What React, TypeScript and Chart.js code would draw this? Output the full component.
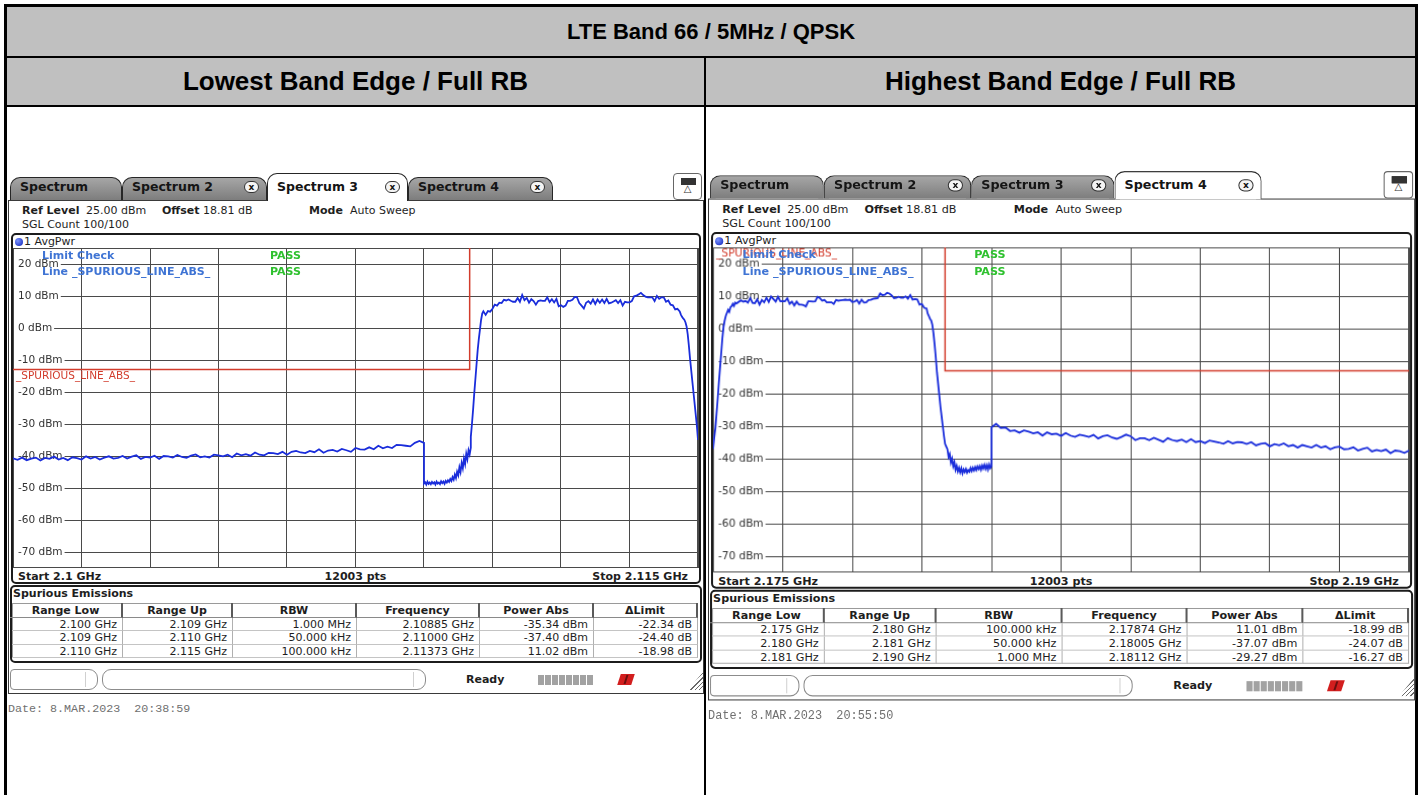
import React, { useEffect, useRef } from 'react';
import { Chart, registerables } from 'chart.js';

Chart.register(...registerables);

// ---------------- data ----------------
const TITLE = 'LTE Band 66 / 5MHz / QPSK';
const LEFT_HEADING = 'Lowest Band Edge / Full RB';
const RIGHT_HEADING = 'Highest Band Edge / Full RB';
const TAB_LABELS = ['Spectrum', 'Spectrum 2', 'Spectrum 3', 'Spectrum 4'];

const Y_MIN = -75;
const Y_MAX = 25;
const Y_TICKS = [-70, -60, -50, -40, -30, -20, -10, 0, 10, 20];

const LEFT_X_MIN = 2.1;
const LEFT_X_MAX = 2.115;
const LEFT_X_TICKS = [2.1, 2.1015, 2.103, 2.1045, 2.106, 2.1075, 2.109, 2.1105, 2.112, 2.1135, 2.115];
const RIGHT_X_MIN = 2.175;
const RIGHT_X_MAX = 2.19;
const RIGHT_X_TICKS = [2.175, 2.1765, 2.178, 2.1795, 2.181, 2.1825, 2.184, 2.1855, 2.187, 2.1885, 2.19];

const LIMIT_NAME = '_SPURIOUS_LINE_ABS_';
const LEFT_LIMIT_FREQ = [2.1, 2.11, 2.11, 2.115];
const LEFT_LIMIT_DBM = [-13, -13, 30, 30];
const RIGHT_LIMIT_FREQ = [2.175, 2.18, 2.18, 2.19];
const RIGHT_LIMIT_DBM = [30, 30, -13, -13];

// Trace sweep segments (start GHz, sweep step GHz, levels dBm)
const LEFT_FLOOR = [
  -40.7, -41.2, -40.5, -41.3, -40.8, -40.5, -41.4, -40.6, -40.9, -40.2,
  -41.1, -40.6, -41.3, -40.4, -40.7, -41.1, -40.1, -40.8, -40.3, -41.1,
  -40.5, -40.1, -40.8, -40.6, -40.0, -40.8, -40.2, -39.8, -40.9, -40.3,
  -40.5, -39.9, -40.9, -40.0, -40.1, -40.5, -39.7, -40.3, -40.6, -39.9,
  -39.5, -40.4, -40.1, -40.5, -39.6, -39.8, -40.1, -39.6, -40.4, -39.2,
  -39.8, -39.4, -39.9, -38.9, -39.6, -39.8, -39.0, -39.1, -39.4, -38.7,
  -39.6, -38.7, -38.4, -38.9, -39.1, -38.4, -38.8, -37.9, -39.0, -38.3,
  -38.1, -38.6, -37.8, -38.2, -38.7, -37.5, -37.9, -38.0, -37.3, -37.9,
  -36.8, -37.6, -37.1, -37.5, -36.5, -36.6, -36.8, -37.0, -35.9, -35.3, -35.9,
];
const LEFT_GAP = [
  -48.6,
  -48.2, -48.9, -48.0, -48.7, -48.3, -48.8, -48.1, -48.6, -48.2, -48.9,
  -48.0, -48.6, -48.3, -48.8, -47.9, -48.5, -48.0, -48.7, -47.8, -48.3,
  -47.6, -48.1, -47.2, -47.8, -46.6, -47.4, -45.8, -46.9, -44.9, -46.0,
  -43.5, -45.0, -42.2, -43.8, -40.8, -42.5, -39.3, -41.0, -38.2, -39.5, -37.4,
];
const LEFT_RISE = [-34.0, -30.0, -25.5, -20.5, -16.0, -11.5, -7.0, -3.5, -0.5, 2.5, 4.5, 5.2];
const LEFT_TOP = [
  4.1, 5.3, 5.1, 6.0, 7.3, 7.0, 7.9, 7.8, 8.8, 8.6,
  8.9, 8.5, 8.2, 8.2, 9.4, 8.2, 10.3, 8.7, 9.4, 7.9,
  9.0, 8.4, 7.3, 8.4, 8.6, 8.5, 8.5, 9.6, 8.1, 9.0,
  8.0, 9.1, 6.8, 7.1, 6.6, 7.0, 8.5, 8.5, 8.8, 9.7,
  9.6, 7.8, 7.0, 6.1, 7.9, 8.4, 7.6, 8.9, 7.5, 8.9,
  7.9, 8.9, 7.8, 9.1, 7.7, 7.9, 8.3, 8.7, 7.8, 8.7,
  7.0, 8.2, 8.0, 8.0, 8.4, 9.9, 10.1, 10.5, 11.0, 10.3,
  9.8, 9.6, 9.6, 9.6, 8.4, 10.0, 9.1, 9.6, 9.6, 8.2,
  8.6, 7.3, 7.1, 5.8, 6.0, 5.2,
];
const LEFT_FALL = [4.2, 3.5, 3.0, 2.6, 1.8, 0.5, -2.0, -5.5, -9.5, -13.0, -16.5, -20.0, -23.5, -27.0, -30.5, -35.0];

const RIGHT_RISE = [
  -37.0, -33.5, -30.5, -26.0, -21.5, -16.5, -12.0, -7.5, -3.0, 0.5,
  2.5, 4.0, 4.9, 5.8, 5.2, 6.6, 6.9, 7.6, 7.0, 8.0, 7.7,
];
const RIGHT_TOP = [
  8.7, 8.3, 8.5, 8.0, 9.4, 7.9, 7.8, 9.0, 7.4, 8.8,
  8.1, 9.5, 8.2, 9.9, 9.1, 8.3, 9.8, 8.4, 8.5, 8.4,
  9.3, 7.6, 8.3, 7.1, 8.3, 7.4, 7.4, 7.2, 6.8, 8.4,
  8.4, 8.3, 8.4, 9.8, 9.4, 8.6, 8.8, 8.1, 8.1, 8.1,
  7.6, 8.8, 8.6, 8.7, 8.8, 8.9, 8.8, 8.9, 8.2, 8.3,
  8.8, 7.7, 8.9, 8.0, 8.1, 8.8, 8.9, 9.2, 9.3, 9.4,
  10.8, 10.3, 10.4, 11.0, 10.8, 10.2, 9.4, 9.5, 9.8, 9.5,
  9.5, 9.9, 9.2, 10.3, 8.9, 9.1, 9.0, 7.4, 7.6, 6.4, 6.2,
];
const RIGHT_FALL = [4.6, 3.9, 3.0, 2.5, 1.2, -1.5, -5.0, -9.0, -13.5, -17.0, -20.5, -24.0, -27.0, -30.0, -33.0, -35.5];
const RIGHT_GAP = [
  -36.3, -37.1, -39.5, -38.6, -41.2, -40.0, -42.3, -41.1, -43.4, -42.2,
  -43.9, -42.8, -44.2, -43.0, -44.5, -43.3, -44.1, -43.2, -44.3, -43.5,
  -44.0, -42.9, -43.8, -42.8, -43.6, -42.6, -43.5, -42.4, -43.2, -42.3,
  -43.4, -42.1, -43.0, -41.9, -43.1, -42.0, -43.3, -41.8, -42.9, -42.3,
];
const RIGHT_FLOOR = [
  -30.4, -29.3, -30.6, -30.4, -31.5, -31.3, -32.0, -31.3, -31.7, -32.2,
  -31.9, -32.9, -31.9, -32.5, -32.3, -33.0, -32.1, -32.9, -33.3, -32.6,
  -32.9, -33.3, -32.7, -33.8, -33.1, -32.8, -33.5, -33.9, -33.3, -32.6,
  -33.1, -34.3, -33.7, -33.7, -34.3, -33.6, -34.2, -34.8, -33.7, -34.3,
  -34.6, -34.1, -34.9, -34.0, -34.9, -34.6, -35.2, -34.4, -34.7, -35.0,
  -35.4, -34.6, -35.3, -34.9, -35.0, -35.5, -34.9, -35.9, -35.4, -35.2,
  -36.2, -35.5, -35.9, -35.3, -36.2, -35.8, -36.6, -35.8, -36.2, -36.6,
  -35.8, -36.6, -36.2, -37.1, -36.5, -36.3, -37.1, -37.0, -36.5, -37.5,
  -37.0, -36.6, -37.8, -37.3, -37.7, -37.2, -38.3, -37.5, -37.7, -38.2, -37.5,
];

const LEFT_SEGMENTS = [
  { start: 2.1, step: 0.0001, values: LEFT_FLOOR },
  { start: 2.109, step: 0.000025, values: LEFT_GAP },
  { start: 2.110025, step: 0.000025, values: LEFT_RISE },
  { start: 2.11035, step: 0.00005, values: LEFT_TOP },
  { start: 2.114625, step: 0.000025, values: LEFT_FALL },
];
const RIGHT_SEGMENTS = [
  { start: 2.175, step: 0.000025, values: RIGHT_RISE },
  { start: 2.1756, step: 0.00005, values: RIGHT_TOP },
  { start: 2.179625, step: 0.000025, values: RIGHT_FALL },
  { start: 2.180025, step: 0.000025, values: RIGHT_GAP },
  { start: 2.181, step: 0.0001, values: RIGHT_FLOOR },
];

const TABLE_HEADERS = ['Range Low', 'Range Up', 'RBW', 'Frequency', 'Power Abs', '\u0394Limit'];
const LEFT_ROWS = [
  ['2.100 GHz', '2.109 GHz', '1.000 MHz', '2.10885 GHz', '-35.34 dBm', '-22.34 dB'],
  ['2.109 GHz', '2.110 GHz', '50.000 kHz', '2.11000 GHz', '-37.40 dBm', '-24.40 dB'],
  ['2.110 GHz', '2.115 GHz', '100.000 kHz', '2.11373 GHz', '11.02 dBm', '-18.98 dB'],
];
const RIGHT_ROWS = [
  ['2.175 GHz', '2.180 GHz', '100.000 kHz', '2.17874 GHz', '11.01 dBm', '-18.99 dB'],
  ['2.180 GHz', '2.181 GHz', '50.000 kHz', '2.18005 GHz', '-37.07 dBm', '-24.07 dB'],
  ['2.181 GHz', '2.190 GHz', '1.000 MHz', '2.18112 GHz', '-29.27 dBm', '-16.27 dB'],
];

const LEFT_START = 'Start 2.1 GHz';
const LEFT_STOP = 'Stop 2.115 GHz';
const RIGHT_START = 'Start 2.175 GHz';
const RIGHT_STOP = 'Stop 2.19 GHz';
const SWEEP_POINTS = '12003 pts';
const LEFT_DATE = 'Date: 8.MAR.2023  20:38:59';
const RIGHT_DATE = 'Date: 8.MAR.2023  20:55:50';

// ---------------- styles ----------------
const UI_FONT = '"DejaVu Sans", Verdana, sans-serif';
const DOC_FONT = '"Liberation Sans", Arial, sans-serif';
const TRACE_COLOR = '#1a2ddb';
const LIMIT_COLOR = '#d23c2c';
const GRID_COLOR = '#4a4a4a';
const COLS = [2, 115, 225, 349, 472, 586, 690];
const TAB_X = [2, 114, 259, 400, 545];

const framePlugin = {
  id: 'plotFrame',
  beforeDatasetsDraw(chart: any) {
    const { ctx, chartArea } = chart;
    ctx.save();
    ctx.strokeStyle = GRID_COLOR;
    ctx.lineWidth = 1;
    ctx.strokeRect(chartArea.left + 0.5, chartArea.top + 0.5, chartArea.width - 1, chartArea.height - 1);
    ctx.restore();
  },
};

const limitLabelPlugin = {
  id: 'limitLabel',
  afterDatasetsDraw(chart: any, _args: any, opts: any) {
    const { ctx, chartArea, scales } = chart;
    const y = Math.max(scales.y.getPixelForValue(opts.level), chartArea.top);
    ctx.save();
    ctx.font = '10.5px "DejaVu Sans"';
    ctx.fillStyle = LIMIT_COLOR;
    ctx.textBaseline = 'top';
    ctx.fillText(opts.text, chartArea.left + 3, y + 1);
    ctx.restore();
  },
};

function buildTrace(segs: { start: number; step: number; values: number[] }[]) {
  const pts: { x: number; y: number }[] = [];
  segs.forEach((s) => s.values.forEach((v, i) => pts.push({ x: s.start + i * s.step, y: v })));
  return pts;
}

function SpectrumPlot(props: any) {
  const { xMin, xMax, xTicks, segments, limitFreq, limitDbm } = props;
  const ref = useRef<HTMLCanvasElement>(null);
  useEffect(() => {
    const chart = new Chart(ref.current as HTMLCanvasElement, {
      type: 'line',
      data: {
        datasets: [
          {
            data: buildTrace(segments),
            borderColor: TRACE_COLOR,
            borderWidth: 1.8,
            pointRadius: 0,
            tension: 0,
            fill: false,
          },
          {
            data: limitFreq.map((f: number, i: number) => ({ x: f, y: limitDbm[i] })),
            borderColor: LIMIT_COLOR,
            borderWidth: 1.5,
            pointRadius: 0,
            tension: 0,
            fill: false,
          },
        ],
      },
      options: {
        responsive: false,
        animation: false,
        events: [],
        layout: { padding: 1 },
        plugins: {
          legend: { display: false },
          tooltip: { enabled: false },
          limitLabel: { level: limitDbm[0], text: LIMIT_NAME },
        } as any,
        scales: {
          x: {
            type: 'linear',
            min: xMin,
            max: xMax,
            afterBuildTicks: (s: any) => {
              s.ticks = xTicks.map((v: number) => ({ value: v }));
            },
            afterFit: (s: any) => {
              s.height = 0;
              s.paddingLeft = 0;
              s.paddingRight = 0;
              s.paddingTop = 0;
              s.paddingBottom = 0;
            },
            ticks: { display: false },
            grid: { color: GRID_COLOR, lineWidth: 1, drawTicks: false },
            border: { display: false },
          },
          y: {
            type: 'linear',
            min: Y_MIN,
            max: Y_MAX,
            afterBuildTicks: (s: any) => {
              s.ticks = Y_TICKS.map((v) => ({ value: v }));
            },
            afterFit: (s: any) => {
              s.width = 0;
              s.paddingLeft = 0;
              s.paddingRight = 0;
              s.paddingTop = 0;
              s.paddingBottom = 0;
            },
            ticks: {
              mirror: true,
              padding: 5,
              color: '#333333',
              font: { family: '"DejaVu Sans", sans-serif', size: 10.5 },
              callback: (v: any) => `${v} dBm`,
              showLabelBackdrop: true,
              backdropColor: '#ffffff',
              backdropPadding: { left: 4, right: 2, top: 0, bottom: 0 },
            },
            grid: { color: GRID_COLOR, lineWidth: 1, drawTicks: false },
            border: { display: false },
          },
        } as any,
      },
      plugins: [framePlugin, limitLabelPlugin],
    });
    return () => chart.destroy();
  }, []);
  return <canvas ref={ref} width={687} height={322} style={{ position: 'absolute', left: 4, top: 81 }} />;
}

function Txt(props: any) {
  const { x, y, children, bold, color, size, align, w } = props;
  return (
    <div
      style={{
        position: 'absolute',
        left: x,
        top: y - 7,
        width: w,
        lineHeight: '14px',
        whiteSpace: 'pre',
        fontWeight: bold ? 'bold' : 'normal',
        color: color || '#1e1e1e',
        fontSize: size || 11,
        textAlign: align || 'left',
      }}
    >
      {children}
    </div>
  );
}

function Tab(props: any) {
  const { x, w, label, active, closable } = props;
  const top = active ? 7 : 11;
  const height = active ? 28 : 23;
  return (
    <div
      style={{
        position: 'absolute',
        left: x,
        top,
        width: w,
        height,
        boxSizing: 'border-box',
        border: '1px solid #262626',
        borderBottom: 'none',
        borderRadius: '10px 10px 0 0',
        background: active ? '#ffffff' : 'linear-gradient(#a6a6a6, #7d7d7d)',
        zIndex: active ? 3 : 1,
      }}
    >
      <div
        style={{
          position: 'absolute',
          left: 9,
          top: 21 - top - 1 - 8,
          lineHeight: '16px',
          fontSize: 12.5,
          fontWeight: 'bold',
          color: '#151515',
          whiteSpace: 'nowrap',
        }}
      >
        {label}
      </div>
      {closable && (
        <div
          style={{
            position: 'absolute',
            right: 7,
            top: 21 - top - 1 - 6,
            width: 15,
            height: 12,
            boxSizing: 'border-box',
            border: '1px solid #333',
            borderRadius: 6,
            background: '#f4f4f4',
            fontSize: 9,
            fontWeight: 'bold',
            lineHeight: '10px',
            textAlign: 'center',
            color: '#111',
          }}
        >
          x
        </div>
      )}
    </div>
  );
}

function Screen(props: any) {
  const { ox, oy, scale, activeTab, xMin, xMax, xTicks, segments, limitFreq, limitDbm, start, stop, rows, date } = props;
  return (
    <div
      style={{
        position: 'absolute',
        left: ox,
        top: oy,
        width: 700,
        height: 560,
        transform: `scale(${scale})`,
        transformOrigin: '0 0',
        fontFamily: UI_FONT,
        fontSize: 11,
        color: '#1e1e1e',
      }}
    >
      <div
        style={{
          position: 'absolute',
          left: 0,
          top: 34,
          width: 696,
          height: 494,
          boxSizing: 'border-box',
          border: '1px solid #3a3a3a',
          background: '#fff',
        }}
      />
      {TAB_LABELS.map((label, i) => (
        <Tab key={label} x={TAB_X[i]} w={TAB_X[i + 1] - TAB_X[i]} label={label} active={i === activeTab} closable={i > 0} />
      ))}
      <div
        style={{
          position: 'absolute',
          left: 665,
          top: 7,
          width: 29,
          height: 27,
          boxSizing: 'border-box',
          border: '1px solid #666',
          borderRadius: 4,
          background: '#fff',
          zIndex: 2,
        }}
      >
        <div style={{ position: 'absolute', left: 7, top: 4, width: 13, height: 5, background: '#333', border: '1px solid #333' }} />
        <div style={{ position: 'absolute', left: 0, top: 9, width: 27, textAlign: 'center', fontSize: 10, lineHeight: '12px', color: '#333' }}>
          {'\u25B3'}
        </div>
      </div>

      <Txt x={14} y={45} bold>Ref Level</Txt>
      <Txt x={78} y={45}>25.00 dBm</Txt>
      <Txt x={154} y={45} bold>Offset</Txt>
      <Txt x={195} y={45}>18.81 dB</Txt>
      <Txt x={301} y={45} bold>Mode</Txt>
      <Txt x={342} y={45}>Auto Sweep</Txt>
      <Txt x={14} y={59}>SGL Count 100/100</Txt>

      <div
        style={{
          position: 'absolute',
          left: 3,
          top: 67,
          width: 690,
          height: 351,
          boxSizing: 'border-box',
          border: '2px solid #1c1c1c',
          borderRadius: 5,
        }}
      />
      <div
        style={{
          position: 'absolute',
          left: 7,
          top: 72,
          width: 8,
          height: 8,
          borderRadius: 4,
          background: 'radial-gradient(circle at 35% 35%, #7d95ff, #0a1fb8)',
        }}
      />
      <Txt x={16} y={76}>1 AvgPwr</Txt>
      <SpectrumPlot xMin={xMin} xMax={xMax} xTicks={xTicks} segments={segments} limitFreq={limitFreq} limitDbm={limitDbm} />
      <Txt x={34} y={90} bold color="#3f74d4">Limit Check</Txt>
      <Txt x={262} y={90} bold color="#2fc12f">PASS</Txt>
      <Txt x={34} y={106} bold color="#3f74d4">{'Line ' + LIMIT_NAME}</Txt>
      <Txt x={262} y={106} bold color="#2fc12f">PASS</Txt>
      <Txt x={10} y={411} bold>{start}</Txt>
      <Txt x={5} w={685} y={411} bold align="center">{SWEEP_POINTS}</Txt>
      <Txt x={380} w={300} y={411} bold align="right">{stop}</Txt>

      <div
        style={{
          position: 'absolute',
          left: 2,
          top: 419,
          width: 692,
          height: 78,
          boxSizing: 'border-box',
          border: '2px solid #1c1c1c',
          borderRadius: 5,
        }}
      />
      <Txt x={5} y={428} bold>Spurious Emissions</Txt>
      <div
        style={{
          position: 'absolute',
          left: COLS[0] + 2,
          top: 437,
          width: COLS[6] - COLS[0] - 2,
          height: 55,
          boxSizing: 'border-box',
          border: '1px solid #9a9a9a',
        }}
      />
      {TABLE_HEADERS.map((h, i) => (
        <div
          key={h}
          style={{
            position: 'absolute',
            left: COLS[i],
            top: 437,
            width: COLS[i + 1] - COLS[i],
            height: 15,
            boxSizing: 'border-box',
            borderRight: '2px solid #5a5a5a',
            borderBottom: '1px solid #8a8a8a',
            textAlign: 'center',
            fontWeight: 'bold',
            lineHeight: '15px',
          }}
        >
          {h}
        </div>
      ))}
      {rows.map((r: string[], ri: number) =>
        r.map((c, ci) => (
          <div
            key={`${ri}-${ci}`}
            style={{
              position: 'absolute',
              left: COLS[ci] + (ci === 0 ? 2 : 0),
              top: 452 + ri * 13.3,
              width: COLS[ci + 1] - COLS[ci] - (ci === 0 ? 2 : 0),
              height: 13.3,
              boxSizing: 'border-box',
              borderRight: '1px solid #b0b0b0',
              borderBottom: '1px solid #c4c4c4',
              textAlign: 'right',
              paddingRight: 5,
              lineHeight: '13px',
              whiteSpace: 'nowrap',
            }}
          >
            {c}
          </div>
        ))
      )}

      <div
        style={{
          position: 'absolute',
          left: 2,
          top: 503,
          width: 88,
          height: 21,
          boxSizing: 'border-box',
          border: '1px solid #8c8c8c',
          borderRadius: '4px 9px 9px 4px',
        }}
      >
        <div style={{ position: 'absolute', left: 74, top: 2, width: 1, height: 15, background: '#d0d0d0' }} />
      </div>
      <div
        style={{
          position: 'absolute',
          left: 94,
          top: 503,
          width: 324,
          height: 21,
          boxSizing: 'border-box',
          border: '1px solid #8c8c8c',
          borderRadius: 9,
        }}
      >
        <div style={{ position: 'absolute', left: 310, top: 2, width: 1, height: 15, background: '#d0d0d0' }} />
      </div>
      <Txt x={458} y={514} bold>Ready</Txt>
      {[0, 1, 2, 3, 4, 5, 6, 7].map((i) => (
        <div
          key={i}
          style={{ position: 'absolute', left: 530 + i * 7, top: 509, width: 6, height: 10, background: '#a2a2a2' }}
        />
      ))}
      <div
        style={{
          position: 'absolute',
          left: 611,
          top: 508,
          width: 14,
          height: 11,
          background: '#d21e1e',
          transform: 'skewX(-18deg)',
        }}
      >
        <div style={{ position: 'absolute', left: 6, top: 1, width: 2, height: 9, background: '#6a1010' }} />
      </div>
      <div
        style={{
          position: 'absolute',
          left: 680,
          top: 506,
          width: 15,
          height: 18,
          background:
            'repeating-linear-gradient(135deg, transparent 0px, transparent 2px, #6a6a6a 2px, #6a6a6a 3px)',
          clipPath: 'polygon(100% 0, 100% 100%, 0 100%)',
        }}
      />
      <div
        style={{
          position: 'absolute',
          left: 0,
          top: 536,
          fontFamily: '"Liberation Mono", "Courier New", monospace',
          fontSize: 11.7,
          lineHeight: '14px',
          color: '#707070',
          whiteSpace: 'pre',
        }}
      >
        {date}
      </div>
    </div>
  );
}

const headingStyle = (left: number, top: number, width: number, height: number, size: number): any => ({
  position: 'absolute',
  left,
  top,
  width,
  height,
  background: '#c0c0c0',
  display: 'flex',
  alignItems: 'center',
  justifyContent: 'center',
  fontFamily: DOC_FONT,
  fontWeight: 'bold',
  fontSize: size,
  color: '#000',
});

export default function App() {
  return (
    <div
      style={{
        position: 'absolute',
        left: 0,
        top: 0,
        width: 1421,
        height: 795,
        overflow: 'hidden',
        background: '#ffffff',
      }}
    >
      <div style={headingStyle(7, 7, 1408, 49, 22)}>{TITLE}</div>
      <div style={headingStyle(7, 58, 697, 47, 26)}>{LEFT_HEADING}</div>
      <div style={headingStyle(706, 58, 709, 47, 26)}>{RIGHT_HEADING}</div>
      <div style={{ position: 'absolute', left: 7, top: 56, width: 1408, height: 2, background: '#000' }} />
      <div style={{ position: 'absolute', left: 7, top: 105, width: 1408, height: 2, background: '#000' }} />
      <div style={{ position: 'absolute', left: 704, top: 58, width: 2, height: 760, background: '#000' }} />
      <div
        style={{
          position: 'absolute',
          left: 4,
          top: 4,
          width: 1414,
          height: 820,
          boxSizing: 'border-box',
          border: '3px solid #000',
        }}
      />

      <Screen
        ox={8}
        oy={166}
        scale={1}
        activeTab={2}
        xMin={LEFT_X_MIN}
        xMax={LEFT_X_MAX}
        xTicks={LEFT_X_TICKS}
        segments={LEFT_SEGMENTS}
        limitFreq={LEFT_LIMIT_FREQ}
        limitDbm={LEFT_LIMIT_DBM}
        start={LEFT_START}
        stop={LEFT_STOP}
        rows={LEFT_ROWS}
        date={LEFT_DATE}
      />
      <Screen
        ox={708}
        oy={164}
        scale={1.016}
        activeTab={3}
        xMin={RIGHT_X_MIN}
        xMax={RIGHT_X_MAX}
        xTicks={RIGHT_X_TICKS}
        segments={RIGHT_SEGMENTS}
        limitFreq={RIGHT_LIMIT_FREQ}
        limitDbm={RIGHT_LIMIT_DBM}
        start={RIGHT_START}
        stop={RIGHT_STOP}
        rows={RIGHT_ROWS}
        date={RIGHT_DATE}
      />
    </div>
  );
}
